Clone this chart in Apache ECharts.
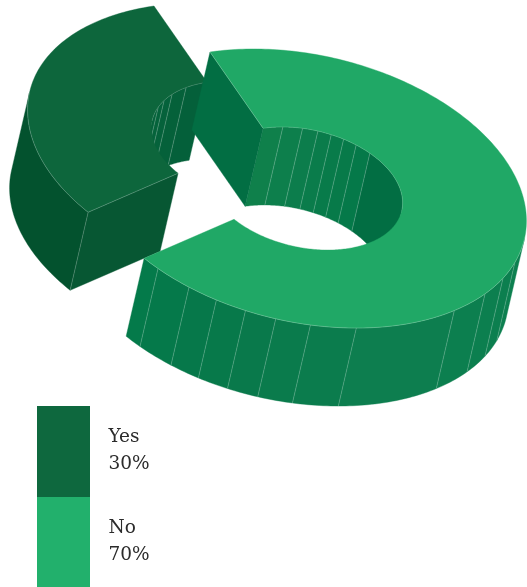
<!DOCTYPE html>
<html>
<head>
<meta charset="utf-8">
<style>html,body{margin:0;padding:0;background:#fff}#chart{width:527px;height:587px}</style>
<script src="https://cdn.jsdelivr.net/npm/echarts@6/dist/echarts.min.js"></script>
</head>
<body>
<div id="chart"></div>
<script>
// Survey answers
const categories = ['Yes', 'No'];
const shares = [30, 70];
const topColors = ['#0d663c', '#20a866'];
const swatchColors = ['#0e683e', '#22b06c'];

// Facet breaks (degrees along each slice) and their wall shades
const yesInnerBreaks = [14.7, 26.6, 35, 43];
const yesInnerShades = ['#04603a', '#05613a', '#05623b', '#05633b', '#05623a'];
const noInnerBreaks = [12.3, 24, 33, 41, 48.7, 57, 67];
const noInnerShades = ['#0f804b', '#0d7f4c', '#0c7d4c', '#0a7c4b', '#087b4a', '#077a49', '#057949', '#026e43'];
const noOuterBreaks = [134, 142, 151, 163, 192, 204, 213, 221, 229, 237, 247];
const noOuterShades = ['#0d8050', '#0c7f4f', '#0c7f4f', '#0c7f4f', '#0d7e4f', '#0b7c4d', '#0a7b4c', '#09794b', '#07794a', '#06784a', '#05794a', '#047a4a'];

// Projection of the unit ring onto the page
const U = [-95, -136.5];
const V = [-200, 29];
const DEPTH = [-18, 78];
const INNER = 0.441;
const CENTERS = [[249, 142.5], [305, 188.5]];
const HORIZON = 57.2; // angle where the wall turns out of sight, from the slice seam

const WALL_LINE = 'rgba(255,255,255,0.36)';

function ringPoint(center, radius, deg, depth) {
  const t = deg * Math.PI / 180;
  return [
    center[0] + radius * (U[0] * Math.cos(t) + V[0] * Math.sin(t)) + (depth ? DEPTH[0] : 0),
    center[1] + radius * (U[1] * Math.cos(t) + V[1] * Math.sin(t)) + (depth ? DEPTH[1] : 0)
  ];
}

function arc(center, radius, from, to, depth) {
  const pts = [];
  const n = Math.max(2, Math.ceil(Math.abs(to - from)));
  for (let i = 0; i <= n; i++) pts.push(ringPoint(center, radius, from + (to - from) * i / n, depth));
  return pts;
}

function renderSlice(params, api) {
  const i = params.dataIndex;
  const total = shares.reduce((a, b) => a + b, 0);
  const sweep = api.value(1) / total * 360;
  const c = CENTERS[i];
  const px = (pts) => pts.map((p) => api.coord(p));
  const children = [];

  const fill = (pts, color, extra) => children.push({
    type: 'polygon', silent: true,
    shape: { points: px(pts) },
    style: Object.assign({ fill: color, stroke: color, lineWidth: 0.4 }, extra || {})
  });
  const line = (pts, width) => children.push({
    type: 'polyline', silent: true,
    shape: { points: px(pts) },
    style: { fill: null, stroke: WALL_LINE, lineWidth: width || 0.6 }
  });
  const wall = (radius, from, to, color) =>
    fill(arc(c, radius, from, to, false).concat(arc(c, radius, to, from, true)), color);
  const seam = (radius, deg) => line([ringPoint(c, radius, deg, false), ringPoint(c, radius, deg, true)]);
  const cut = (deg, color) => fill([
    ringPoint(c, INNER, deg, false), ringPoint(c, 1, deg, false),
    ringPoint(c, 1, deg, true), ringPoint(c, INNER, deg, true)
  ], color);
  const facets = (radius, breaks, shades, from, to, sign) => {
    const edges = [from].concat(breaks, [to]);
    shades.forEach((s, k) => wall(radius, sign * edges[k], sign * edges[k + 1], s));
    breaks.forEach((b) => seam(radius, sign * b));
  };

  if (i === 0) {
    // Detached slice: angles run forward from the seam
    facets(INNER, yesInnerBreaks, yesInnerShades, 0, HORIZON, 1);
    cut(sweep, '#075733');
    wall(1, HORIZON, sweep, '#03522e');
    seam(1, sweep);
    fill(arc(c, 1, 0, sweep).concat(arc(c, INNER, sweep, 0)), topColors[i]);
    line(arc(c, 1, HORIZON, sweep));
    line([ringPoint(c, 1, sweep), ringPoint(c, INNER, sweep)]);
    line(arc(c, INNER, 0, HORIZON), 0.4);
  } else {
    // Main slice: angles run backward from the same seam
    facets(INNER, noInnerBreaks, noInnerShades, 0, 180 - HORIZON, -1);
    cut(0, '#026e43');
    facets(1, noOuterBreaks, noOuterShades, 180 - HORIZON, sweep, -1);
    fill(arc(c, 1, 0, -sweep).concat(arc(c, INNER, -sweep, 0)), topColors[i]);
    line(arc(c, 1, -(180 - HORIZON), -sweep));
    line(arc(c, INNER, 0, -(180 - HORIZON)), 0.4);
    line([ringPoint(c, 1, 0), ringPoint(c, INNER, 0)]);
  }
  return { type: 'group', children };
}

function renderKey(params, api) {
  const i = params.dataIndex;
  const name = categories[i];
  const tl = api.coord([37, 406 + i * 91]);
  const br = api.coord([90, 406 + (i + 1) * 91]);
  const text = (str, y) => ({
    type: 'text', x: 108.5, y,
    style: { text: str, fill: '#2b2b2b', fontFamily: '"DejaVu Serif"', fontSize: 18.5, verticalAlign: 'middle', align: 'left' }
  });
  return {
    type: 'group',
    children: [
      { type: 'rect', shape: { x: tl[0], y: tl[1], width: br[0] - tl[0], height: br[1] - tl[1] }, style: { fill: swatchColors[i] } },
      text(name, tl[1] + 31.5),
      text(api.value(1) + '%', tl[1] + 58.5)
    ]
  };
}

const chart = echarts.init(document.getElementById('chart'), null, { renderer: 'canvas' });
const rows = shares.map((v, i) => [i, v]);
chart.setOption({
  animation: false,
  backgroundColor: '#fff',
  tooltip: { show: false },
  grid: { left: 0, right: 0, top: 0, bottom: 0 },
  xAxis: { type: 'value', min: 0, max: 527, show: false },
  yAxis: { type: 'value', min: 0, max: 587, inverse: true, show: false },
  series: [
    { type: 'custom', name: 'Share', clip: false, renderItem: renderSlice, data: rows, encode: { x: 0, y: 1 } },
    { type: 'custom', name: 'Key', clip: false, renderItem: renderKey, data: rows, encode: { x: 0, y: 1 } }
  ]
});
</script>
</body>
</html>
